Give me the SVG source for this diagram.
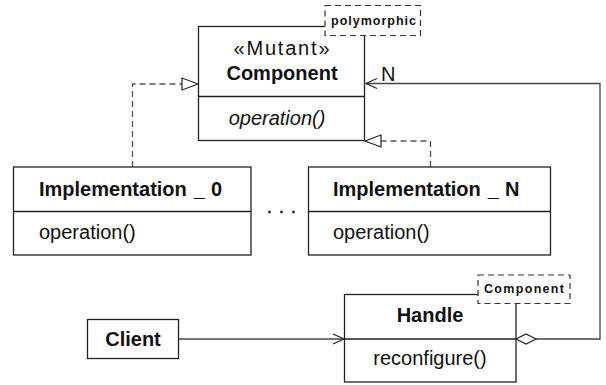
<svg xmlns="http://www.w3.org/2000/svg" width="606" height="385" viewBox="0 0 606 385">
  <style>
    .box { fill: #fff; stroke: #222; stroke-width: 1.3; }
    .div { stroke: #222; stroke-width: 1.3; }
    .tag { fill: #fff; stroke: #333; stroke-width: 1.2; stroke-dasharray: 6 4; }
    .t { font-family: "Liberation Sans", Arial, sans-serif; font-size: 20px; fill: #111; }
    .b { font-weight: bold; }
    .i { font-style: italic; }
    .s { font-family: "Liberation Sans", Arial, sans-serif; font-size: 12.5px; font-weight: bold; fill: #111; }
    .mid { text-anchor: middle; }
    .dash { fill: none; stroke: #555; stroke-width: 1.3; stroke-dasharray: 6 4; }
    .line { fill: none; stroke: #444; stroke-width: 1.3; }
    .head { fill: #fff; stroke: #222; stroke-width: 1.2; }
    .open { fill: none; stroke: #222; stroke-width: 1.2; }
  </style>

  <!-- connectors -->
  <g id="connectors">
    <!-- realization: Implementation_0 -> Component -->
    <path class="dash" d="M132.5,167 V84 H182"/>
    <polygon class="head" points="198,84 182,78 182,90"/>
    <!-- realization: Implementation_N -> Component -->
    <path class="dash" d="M430.5,167 V141 H381"/>
    <polygon class="head" points="365,141 381,135 381,147"/>
    <!-- aggregation Handle -> Component (N) -->
    <path class="line" d="M536,339 H600 V83.5 H366"/>
    <polyline class="open" points="377,78.5 366,83.5 377,88.5"/>
    <polygon class="head" points="516,339 526,334 536,339 526,344"/>
    <text class="t" x="381" y="81" font-size="19">N</text>
    <!-- Client -> Handle -->
    <path class="line" d="M178,339 H343"/>
    <polyline class="open" points="333,334 344,339 333,344"/>
  </g>

  <!-- Component -->
  <g id="component">
    <rect class="box" x="198.5" y="26.5" width="166" height="114"/>
    <line class="div" x1="198.5" y1="96.5" x2="364.5" y2="96.5"/>
    <text class="t mid" x="281.5" y="55" textLength="96" lengthAdjust="spacing">«Mutant»</text>
    <text class="t b mid" x="282" y="80">Component</text>
    <text class="t i mid" x="277" y="125">operation()</text>
    <rect class="tag" x="325" y="5.5" width="95.5" height="30"/>
    <text class="s mid" x="373.5" y="24.5" textLength="85" lengthAdjust="spacing">polymorphic</text>
  </g>

  <!-- Implementation_0 -->
  <g id="implementation-0">
    <rect class="box" x="13.5" y="167" width="237.5" height="88"/>
    <line class="div" x1="13.5" y1="211.5" x2="251" y2="211.5"/>
    <text class="t b" x="39" y="196">Implementation<tspan dx="7">_</tspan><tspan dx="6">0</tspan></text>
    <text class="t" x="39" y="238.5">operation()</text>
  </g>

  <!-- ellipsis between implementations -->
  <g id="ellipsis" fill="#222">
    <circle cx="269.5" cy="212" r="1.4"/>
    <circle cx="281.5" cy="212" r="1.4"/>
    <circle cx="293.5" cy="212" r="1.4"/>
  </g>

  <!-- Implementation_N -->
  <g id="implementation-n">
    <rect class="box" x="308.5" y="167" width="242" height="88"/>
    <line class="div" x1="308.5" y1="211.5" x2="550.5" y2="211.5"/>
    <text class="t b" x="333" y="196">Implementation<tspan dx="7">_</tspan><tspan dx="6">N</tspan></text>
    <text class="t" x="333" y="238.5">operation()</text>
  </g>

  <!-- Client -->
  <g id="client">
    <rect class="box" x="87.5" y="319.5" width="91" height="39"/>
    <text class="t b mid" x="133" y="345.5">Client</text>
  </g>

  <!-- Handle -->
  <g id="handle">
    <rect class="box" x="344.5" y="294.5" width="171.5" height="87.5"/>
    <line class="div" x1="344.5" y1="339" x2="516" y2="339"/>
    <text class="t b mid" x="430" y="322">Handle</text>
    <text class="t mid" x="430" y="365">reconfigure()</text>
    <rect class="tag" x="478" y="275" width="92" height="28.5"/>
    <text class="s mid" x="524" y="293" textLength="80" lengthAdjust="spacing">Component</text>
  </g>
</svg>
